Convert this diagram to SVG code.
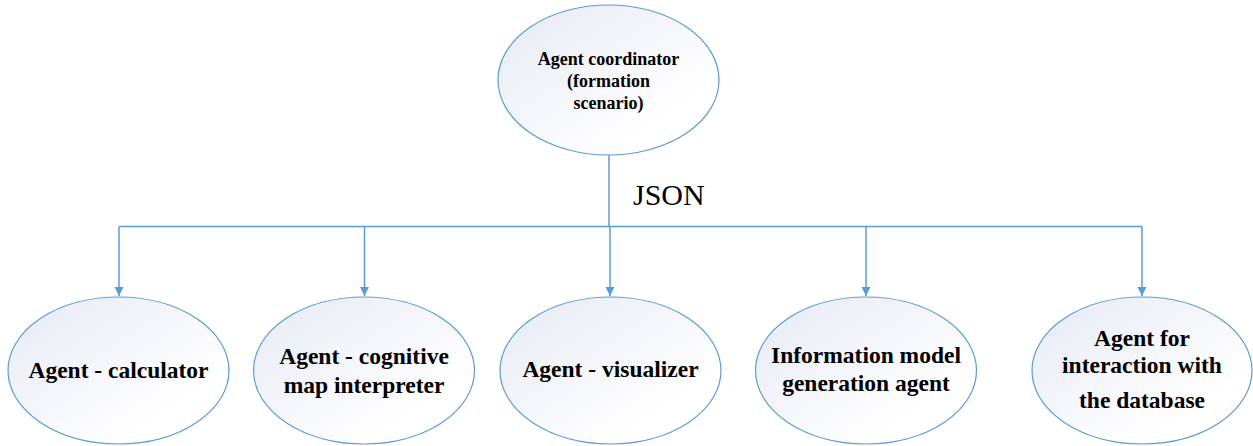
<svg xmlns="http://www.w3.org/2000/svg" width="1253" height="446" viewBox="0 0 1253 446">
<defs>
<linearGradient id="g" x1="0" y1="0" x2="1" y2="1">
<stop offset="0" stop-color="#e6e9f4"/>
<stop offset="0.75" stop-color="#ffffff"/>
</linearGradient>
<marker id="arr" markerWidth="10" markerHeight="10" refX="9" refY="5" orient="auto" markerUnits="userSpaceOnUse">
<path d="M0,0.5 L9,5 L0,9.5 Z" fill="#5b9bd5"/>
</marker>
<style>
.node{fill:url(#g);stroke:#5b9bd5;stroke-width:1.2}
.c{fill:none;stroke:#5b9bd5;stroke-width:1.5}
</style>
</defs>
<rect width="1253" height="446" fill="#fff"/>
<g id="connectors">
<path class="c" d="M609,155 V226.5"/>
<path class="c" d="M119,226.5 H1142"/>
<path class="c" d="M119,226.5 V296" marker-end="url(#arr)"/>
<path class="c" d="M364.5,226.5 V296" marker-end="url(#arr)"/>
<path class="c" d="M610,226.5 V296" marker-end="url(#arr)"/>
<path class="c" d="M866,226.5 V296" marker-end="url(#arr)"/>
<path class="c" d="M1142,226.5 V296" marker-end="url(#arr)"/>
<text x="633" y="205" font-family="Liberation Serif, serif" font-size="30" fill="#000">JSON</text>
</g>
<g id="coordinator" font-family="Liberation Serif, serif" font-weight="bold" font-size="18" text-anchor="middle" fill="#000">
<ellipse class="node" cx="608.5" cy="80" rx="110.5" ry="75"/>
<text x="608.5" y="65">Agent coordinator</text>
<text x="608.5" y="87">(formation</text>
<text x="608.5" y="109">scenario)</text>
</g>
<g id="calculator" font-family="Liberation Serif, serif" font-weight="bold" font-size="23.5" text-anchor="middle" fill="#000">
<ellipse class="node" cx="118.5" cy="370.5" rx="110.5" ry="73.5"/>
<text x="118.5" y="378">Agent - calculator</text>
</g>
<g id="cognitive" font-family="Liberation Serif, serif" font-weight="bold" font-size="23.5" text-anchor="middle" fill="#000">
<ellipse class="node" cx="364" cy="370.5" rx="110.5" ry="73.5"/>
<text x="364" y="364">Agent - cognitive</text>
<text x="364" y="393">map interpreter</text>
</g>
<g id="visualizer" font-family="Liberation Serif, serif" font-weight="bold" font-size="23.5" text-anchor="middle" fill="#000">
<ellipse class="node" cx="610.5" cy="370.5" rx="110.5" ry="73.5"/>
<text x="610.5" y="377">Agent - visualizer</text>
</g>
<g id="infomodel" font-family="Liberation Serif, serif" font-weight="bold" font-size="23.5" text-anchor="middle" fill="#000">
<ellipse class="node" cx="866" cy="370.5" rx="110.5" ry="73.5"/>
<text x="866" y="363">Information model</text>
<text x="866" y="391">generation agent</text>
</g>
<g id="database" font-family="Liberation Serif, serif" font-weight="bold" font-size="23.5" text-anchor="middle" fill="#000">
<ellipse class="node" cx="1142" cy="370.5" rx="110" ry="73.5"/>
<text x="1142" y="346">Agent for</text>
<text x="1142" y="373">interaction with</text>
<text x="1142" y="408">the database</text>
</g>
</svg>
